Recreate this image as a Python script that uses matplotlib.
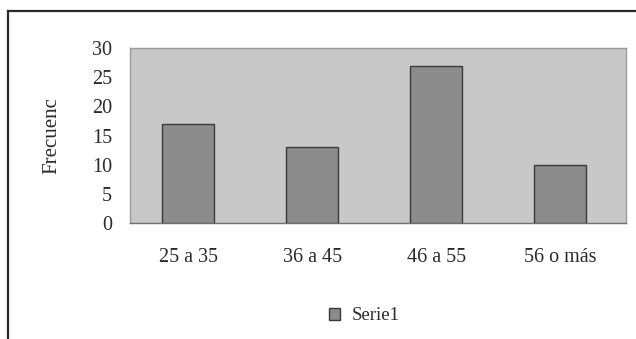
import matplotlib.pyplot as plt
from matplotlib.lines import Line2D

# Datos: frecuencia por grupo de edad
grupos = ['25 a 35', '36 a 45', '46 a 55', '56 o más']
frecuencia = [17, 13, 27, 10]
yticks = [0, 5, 10, 15, 20, 25, 30]

plt.rcParams['font.family'] = ['Liberation Serif', 'DejaVu Serif']

fig = plt.figure(figsize=(6.36, 3.39), dpi=100)
ax = fig.add_axes([0.2044, 0.342, 0.780, 0.516])

x = range(len(grupos))
ax.bar(x, frecuencia, width=0.42, color='#8c8c8c', edgecolor='#3a3a3a',
       linewidth=1.0, label='Serie1', zorder=3)

ax.set_facecolor('#c8c8c8')
ax.set_xlim(-0.47, len(grupos) - 0.47)
ax.set_ylim(0, 30)
ax.set_yticks(yticks)
ax.set_xticks(list(x))
ax.set_xticklabels(grupos)
ax.tick_params(axis='both', length=0, labelsize=14.5, colors='#2a2a2a')
ax.tick_params(axis='y', pad=13)
ax.tick_params(axis='x', pad=18)
for s in ax.spines.values():
    s.set_color('#9a9a9a')
    s.set_linewidth(1.0)
ax.spines['bottom'].set_color('#707070')

ax.set_ylabel('Frecuenc', fontsize=15, color='#2a2a2a', labelpad=22)

# Leyenda debajo del eje
fig.legend(loc='center', bbox_to_anchor=(0.573, 0.068), frameon=False,
           fontsize=13.5, handlelength=0.6, handleheight=0.6,
           handletextpad=0.6, labelcolor='#2a2a2a')

# Marco exterior del gráfico (solo borde superior e izquierdo)
fig.add_artist(Line2D([0.013, 1.0], [0.967, 0.967], color='#2a2a2a',
                      linewidth=1.6, transform=fig.transFigure))
fig.add_artist(Line2D([0.013, 0.013], [0.0, 0.967], color='#2a2a2a',
                      linewidth=1.6, transform=fig.transFigure))

fig.savefig('out.png', dpi=100, facecolor='white')
